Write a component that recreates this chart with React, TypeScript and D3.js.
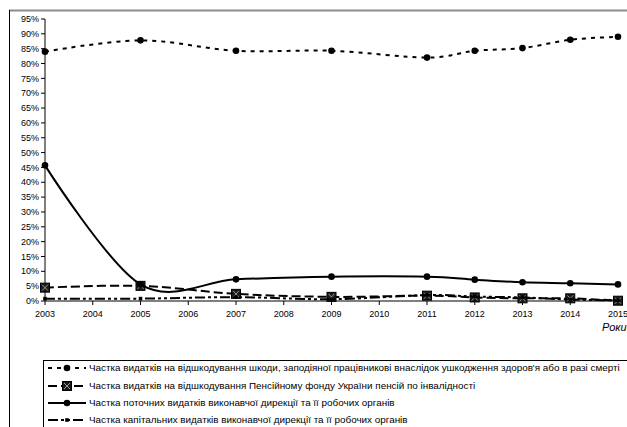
import React from 'react';
import * as d3 from 'd3';

const years = [2003, 2005, 2007, 2009, 2011, 2012, 2013, 2014, 2015];
const axisYears = d3.range(2003, 2016);
const yTicks = d3.range(0, 96, 5);

const damageShare = [84, 87.8, 84.3, 84.3, 82, 84.3, 85.2, 88, 89];
const pensionShare = [4.5, 5.1, 2.4, 1.4, 1.8, 1.2, 0.9, 0.9, 0.1];
const currentShare = [45.7, 5.6, 7.3, 8.2, 8.2, 7.2, 6.3, 6.0, 5.6];
const capitalShare = [0.8, 0.8, 1.3, 0.6, 2.0, 1.5, 1.2, 0.5, 0.2];

const legendLabels = [
  'Частка видатків на відшкодування шкоди, заподіяної працівникові внаслідок ушкодження здоров\'я або в разі смерті',
  'Частка видатків на відшкодування Пенсійному фонду України пенсій по інвалідності',
  'Частка поточних видатків виконавчої дирекції та її робочих органів',
  'Частка капітальних видатків виконавчої дирекції та її робочих органів',
];

const W = 627;
const H = 427;
const margin = { left: 45, right: 9, top: 19, bottom: 126 };

const x = d3.scaleLinear().domain([2003, 2015]).range([margin.left, W - margin.right]);
const y = d3.scaleLinear().domain([0, 95]).range([H - margin.bottom, margin.top]);

const line = d3
  .line<[number, number]>()
  .x((d) => x(d[0]))
  .y((d) => y(d[1]))
  .curve(d3.curveCatmullRom.alpha(0));

const pts = (vals: number[]) => years.map((yr, i) => [yr, vals[i]] as [number, number]);

const series = [
  { vals: damageShare, dash: '4,5', width: 2, marker: 'circle' },
  { vals: pensionShare, dash: '9,4', width: 2, marker: 'xsquare' },
  { vals: currentShare, dash: '', width: 2, marker: 'circle' },
  { vals: capitalShare, dash: '10,3,3,3,3,3', width: 2, marker: 'dot' },
];

const font = 'Liberation Sans, Arial, sans-serif';

function Marker({ kind, cx, cy }: { kind: string; cx: number; cy: number }) {
  if (kind === 'circle') return <circle cx={cx} cy={cy} r={3.3} fill="#000" />;
  if (kind === 'dot') return <rect x={cx - 1.8} y={cy - 1.8} width={3.6} height={3.6} fill="#000" />;
  const s = 4.5;
  return (
    <g>
      <rect x={cx - s} y={cy - s} width={2 * s} height={2 * s} fill="#1a1a1a" stroke="#000" />
      <path
        d={`M${cx - s + 1.5},${cy - s + 1.5}L${cx + s - 1.5},${cy + s - 1.5}M${cx + s - 1.5},${cy - s + 1.5}L${cx - s + 1.5},${cy + s - 1.5}`}
        stroke="#9a9a9a"
        strokeWidth={1}
      />
    </g>
  );
}

export default function App() {
  const y0 = y(0);
  const legendTop = 360;
  const rowY = [368, 386, 403, 420];
  return (
    <svg
      width={W}
      height={H}
      style={{ position: 'absolute', left: 0, top: 0, background: '#fff' }}
      fontFamily={font}
    >
      {/* frame */}
      <line x1={9} x2={W} y1={10.5} y2={10.5} stroke="#8c8c8c" strokeWidth={2} />
      <line x1={9.5} x2={9.5} y1={10} y2={H} stroke="#000" strokeWidth={1} />

      {/* y axis */}
      <line x1={margin.left} x2={margin.left} y1={y(95)} y2={y0} stroke="#000" />
      {yTicks.map((t) => (
        <g key={t}>
          <line x1={margin.left - 4} x2={margin.left} y1={y(t)} y2={y(t)} stroke="#000" />
          <text x={margin.left - 6} y={y(t)} dy="0.35em" textAnchor="end" fontSize={9} fill="#000">
            {t}%
          </text>
        </g>
      ))}

      {/* x axis */}
      <line x1={margin.left} x2={W - margin.right} y1={y0} y2={y0} stroke="#000" strokeWidth={1.2} />
      {axisYears.map((yr) => (
        <g key={yr}>
          <line x1={x(yr)} x2={x(yr)} y1={y0} y2={y0 + 4} stroke="#000" />
          <text x={x(yr)} y={y0 + 16} textAnchor="middle" fontSize={9} fill="#000">
            {yr}
          </text>
        </g>
      ))}
      <text x={602} y={331} fontSize={11} fontStyle="italic" fill="#000">
        Роки
      </text>

      {/* series */}
      {series.map((s, i) => (
        <g key={i}>
          <path
            d={line(pts(s.vals)) || ''}
            fill="none"
            stroke="#000"
            strokeWidth={s.width}
            strokeDasharray={s.dash || undefined}
          />
          {pts(s.vals).map(([yr, v]) => (
            <Marker key={yr} kind={s.marker} cx={x(yr)} cy={y(v)} />
          ))}
        </g>
      ))}

      {/* legend */}
      <rect x={43.5} y={legendTop + 0.5} width={W - 43} height={H - legendTop + 5} fill="#fff" stroke="#000" />
      {series.map((s, i) => (
        <g key={i}>
          <line
            x1={48}
            x2={86}
            y1={rowY[i]}
            y2={rowY[i]}
            stroke="#000"
            strokeWidth={s.width}
            strokeDasharray={s.dash || undefined}
          />
          <Marker kind={s.marker} cx={67} cy={rowY[i]} />
          <text x={89} y={rowY[i]} dy="0.35em" fontSize={9.9} fill="#000">
            {legendLabels[i]}
          </text>
        </g>
      ))}
    </svg>
  );
}
